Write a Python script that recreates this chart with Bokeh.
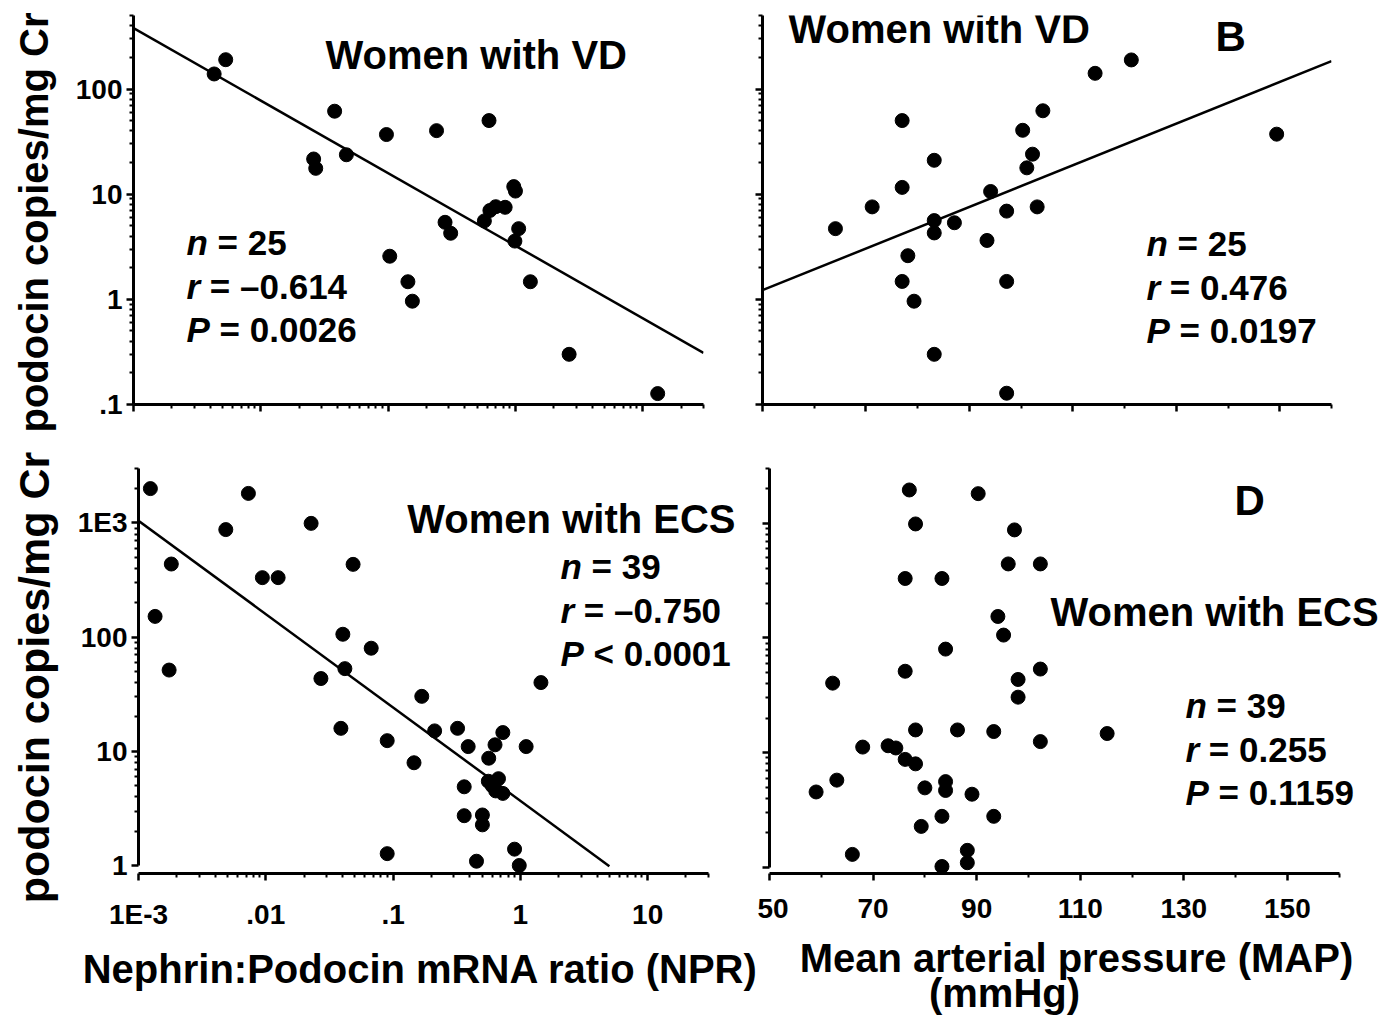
from math import pi, log10
from bokeh.plotting import figure
from bokeh.models import Range1d, FixedTicker, Label, CustomJSTickFormatter
from bokeh.layouts import row, column
from bokeh.embed import file_html
from bokeh.resources import INLINE

FONT = "Liberation Sans"

# ---------------- data ----------------
# Panel A: women with VD, NPR vs podocin copies/mg Cr
npr_vd = [0.0043, 0.0053, 0.038, 0.026, 0.027, 0.047, 0.097, 0.24, 0.62, 0.28,
          0.31, 0.103, 0.143, 0.155, 0.57, 0.63, 0.70, 0.83, 0.97, 1.0,
          1.06, 0.99, 1.31, 2.64, 13.1]
pod_vd_npr = [139, 190, 61.5, 21.6, 17.6, 23.7, 36.9, 40.2, 50.1, 5.4,
              4.25, 2.57, 1.47, 0.96, 5.57, 7.0, 7.6, 7.5, 11.8, 10.7,
              4.7, 3.58, 1.47, 0.30, 0.127]
fit_vd_npr = {"intercept": 0.51, "slope": -0.690, "x_from": 0.001, "x_to": 30}
stats_vd_npr = [("n", "= 25"), ("r", "= \u20130.614"), ("P", "= 0.0026")]

# Panel B: women with VD, MAP vs podocin copies/mg Cr
map_vd = [64.1, 71.2, 77.0, 77.0, 78.1, 77.0, 79.3, 83.2, 83.2, 83.2,
          87.1, 83.2, 93.4, 94.1, 97.2, 97.2, 97.2, 100.3, 101.1, 102.2,
          103.1, 104.2, 114.3, 121.3, 149.4]
pod_vd_map = [4.70, 7.57, 50.1, 11.6, 2.6, 1.48, 0.96, 21.0, 5.61, 4.28,
              5.35, 0.30, 3.63, 10.6, 6.9, 1.48, 0.128, 40.5, 17.8, 24.0,
              7.57, 62.1, 141, 189, 37.2]
fit_vd_map = {"intercept": -0.903, "slope": 0.0198, "x_from": 50, "x_to": 160}
stats_vd_map = [("n", "= 25"), ("r", "= 0.476"), ("P", "= 0.0197")]

# Panel C: women with ECS, NPR vs podocin copies/mg Cr
npr_ecs = [0.00124, 0.0073, 0.00485, 0.0227, 0.00181, 0.0094, 0.0125, 0.0485, 0.00135, 0.00174,
           0.0403, 0.0673, 0.0418, 0.0271, 1.45, 0.168, 0.0389, 0.0899, 0.212, 0.321,
           0.146, 0.389, 0.632, 0.728, 1.11, 0.564, 0.56, 0.673, 0.64, 0.728,
           0.362, 0.362, 0.503, 0.503, 0.0899, 0.452, 0.90, 0.98, 0.60]
pod_ecs_npr = [2000, 1815, 875, 992, 437, 332, 332, 434, 152, 51.5,
               106, 80, 53, 43.4, 40, 30.3, 15.9, 12.4, 15.1, 15.9,
               7.94, 11.0, 11.4, 14.6, 11.0, 8.7, 5.47, 5.76, 4.5, 4.28,
               4.89, 2.73, 2.77, 2.27, 1.27, 1.09, 1.39, 1.0, 5.0]
fit_ecs_npr = {"intercept": 0.566, "slope": -0.818, "x_from": 0.001, "x_to": 5.0}
stats_ecs_npr = [("n", "= 39"), ("r", "= \u20130.750"), ("P", "< 0.0001")]

# Panel D: women with ECS, MAP vs podocin copies/mg Cr
map_ecs = [77.0, 90.3, 78.2, 97.3, 96.1, 102.3, 76.2, 83.3, 94.1, 95.2,
           84.0, 76.2, 102.3, 62.2, 98.0, 98.0, 78.2, 86.3, 93.3, 115.2,
           102.3, 68.0, 72.9, 74.4, 76.2, 78.2, 63.0, 59.0, 80.0, 84.0,
           84.0, 89.1, 83.3, 93.3, 79.3, 66.0, 88.2, 88.2, 83.3]
pod_ecs_map = [1950, 1811, 986, 875, 442, 442, 330, 330, 154, 106,
               80, 51.3, 53.6, 40.4, 43.5, 30.5, 15.8, 15.8, 15.3, 14.7,
               12.5, 11.2, 11.5, 11.0, 8.75, 8.0, 5.77, 4.55, 4.94, 5.6,
               4.69, 4.35, 2.79, 2.79, 2.28, 1.30, 1.41, 1.10, 1.02]
stats_ecs_map = [("n", "= 39"), ("r", "= 0.255"), ("P", "= 0.1159")]

# axis tick definitions
npr_ticks = [0.001, 0.01, 0.1, 1, 10]
npr_tick_labels = ["1E-3", ".01", ".1", "1", "10"]
map_ticks = [50, 70, 90, 110, 130, 150]
map_tick_labels = ["50", "70", "90", "110", "130", "150"]
map_minor = [60, 80, 100, 120, 140, 160]
vd_y_ticks = [0.1, 1, 10, 100]
vd_y_labels = [".1", "1", "10", "100"]
ecs_y_ticks = [1, 10, 100, 1000]
ecs_y_labels = ["1", "10", "100", "1E3"]

y_label = "podocin copies/mg Cr"
npr_label = "Nephrin:Podocin mRNA ratio (NPR)"
map_label_1 = "Mean arterial pressure (MAP)"
map_label_2 = "(mmHg)"
vd_title = "Women with VD"
ecs_title = "Women with ECS"


def log_minors(lo, hi):
    out = []
    e = -6
    while 10 ** e <= hi:
        for m in range(2, 10):
            v = round(m * 10 ** e, 10)
            if lo <= v <= hi:
                out.append(v)
        e += 1
    return out


def label_formatter(ticks, labels):
    return CustomJSTickFormatter(
        args=dict(tvals=ticks, tlabs=labels),
        code="""
        for (let i = 0; i < tvals.length; i++) {
            if (Math.abs(tick - tvals[i]) <= 1e-9 * Math.abs(tvals[i])) { return tlabs[i]; }
        }
        return '';
        """)


def style_axis(ax, ticks, minors, labels=None, standoff=4):
    ax.ticker = FixedTicker(ticks=ticks, minor_ticks=minors)
    ax.axis_line_width = 3
    ax.axis_line_color = "black"
    ax.major_tick_line_width = 2.5
    ax.minor_tick_line_width = 2
    ax.major_tick_line_color = "black"
    ax.minor_tick_line_color = "black"
    ax.major_tick_in = 0
    ax.major_tick_out = 7
    ax.minor_tick_in = 0
    ax.minor_tick_out = 4
    ax.major_label_text_font = FONT
    ax.major_label_text_font_style = "bold"
    ax.major_label_text_color = "black"
    if labels is None:
        # axis without tick labels
        ax.major_label_standoff = 0
        ax.major_label_text_font_size = "2px"
        ax.formatter = label_formatter(ticks, ["" for _ in ticks])
    else:
        ax.major_label_standoff = standoff
        ax.major_label_text_font_size = "28px"
        ax.formatter = label_formatter(ticks, labels)


def txt(p, sx, sy, text, size, style="bold", align="left", angle=0.0):
    p.add_layout(Label(x=sx, y=sy, x_units="screen", y_units="screen", text=text,
                       text_font=FONT, text_font_style=style, text_font_size=f"{size}px",
                       text_align=align, text_baseline="middle", angle=angle,
                       text_color="black"))


SYM_W = {"n": 0.889, "r": 0.667, "P": 0.945}


def stats(p, sx, sy0, lines, size=35, gap=43.5):
    for i, (sym, rest) in enumerate(lines):
        y = sy0 - i * gap
        txt(p, sx, y, sym, size, "bold italic")
        txt(p, sx + SYM_W[sym] * size, y, rest, size)


def base(width, height, xtype, xr, yr, bl, br, bt, bb):
    p = figure(width=width, height=height, x_axis_type=xtype, y_axis_type="log",
               x_range=Range1d(*xr), y_range=Range1d(*yr),
               min_border_left=bl, min_border_right=br, min_border_top=bt, min_border_bottom=bb,
               output_backend="svg", toolbar_location=None)
    p.outline_line_color = None
    p.grid.visible = False
    p.background_fill_color = "white"
    p.border_fill_color = "white"
    return p


def text_canvas(width, height):
    p = figure(width=width, height=height, x_range=Range1d(0, 1), y_range=Range1d(0, 1),
               x_axis_location=None, y_axis_location=None, min_border=0,
               output_backend="svg", toolbar_location=None)
    p.outline_line_color = None
    p.grid.visible = False
    p.background_fill_color = "white"
    p.border_fill_color = "white"
    return p


def log_fit_line(fit):
    xs = [fit["x_from"], fit["x_to"]]
    ys = [10 ** (fit["intercept"] + fit["slope"] * log10(x)) for x in xs]
    return xs, ys


def lin_fit_line(fit):
    xs = [fit["x_from"], fit["x_to"]]
    ys = [10 ** (fit["intercept"] + fit["slope"] * x) for x in xs]
    return xs, ys


# ---------------- left strip with the y-axis titles ----------------
pL = text_canvas(62, 1016)
txt(pL, 33, 794, y_label, 40, align="center", angle=pi / 2)
txt(pL, 33, 339, y_label, 43, align="center", angle=pi / 2)

# ---------------- Panel A ----------------
pA = base(661, 440, "log", (0.001, 30), (0.1, 500), 71, 20, 15, 36)
style_axis(pA.xaxis[0], npr_ticks, log_minors(0.001, 30))
style_axis(pA.yaxis[0], vd_y_ticks, log_minors(0.1, 500), vd_y_labels)
xs, ys = log_fit_line(fit_vd_npr)
pA.line(xs, ys, line_color="black", line_width=2.5)
pA.scatter(npr_vd, pod_vd_npr, size=14, color="black")
txt(pA, 192, 350, vd_title, 40)
stats(pA, 53, 162, stats_vd_npr)

# ---------------- Panel B ----------------
pB = base(648, 440, "linear", (50, 160), (0.1, 500), 39, 40, 15, 36)
style_axis(pB.xaxis[0], map_ticks, map_minor)
style_axis(pB.yaxis[0], vd_y_ticks, log_minors(0.1, 500))
xs, ys = lin_fit_line(fit_vd_map)
pB.line(xs, ys, line_color="black", line_width=2.5)
pB.scatter(map_vd, pod_vd_map, size=14, color="black")
txt(pB, 26, 376, vd_title, 40)
txt(pB, 453, 368, "B", 42)
stats(pB, 384, 161, stats_vd_map)

# ---------------- Panel C ----------------
pC = base(695, 493, "log", (0.001, 72.9), (0.851, 3000), 76, 0, 28, 60)
style_axis(pC.xaxis[0], npr_ticks, log_minors(0.001, 30), npr_tick_labels, standoff=18)
pC.xaxis[0].bounds = (0.001, 30)
style_axis(pC.yaxis[0], ecs_y_ticks, log_minors(1, 3000), ecs_y_labels)
pC.yaxis[0].bounds = (1, 3000)
xs, ys = log_fit_line(fit_ecs_npr)
pC.line(xs, ys, line_color="black", line_width=2.5)
pC.scatter(npr_ecs, pod_ecs_npr, size=14, color="black")
txt(pC, 597, 355, ecs_title, 40, align="right")
stats(pC, 422, 307, stats_ecs_npr)

# ---------------- Panel D ----------------
pD = base(637, 493, "linear", (50, 170.3), (0.886, 3000), 12, 2, 28, 60)
style_axis(pD.xaxis[0], map_ticks, map_minor, map_tick_labels, standoff=18)
pD.xaxis[0].bounds = (50, 160)
style_axis(pD.yaxis[0], ecs_y_ticks, log_minors(1, 3000))
pD.yaxis[0].bounds = (1, 3000)
pD.scatter(map_ecs, pod_ecs_map, size=14, color="black")
txt(pD, 465, 373, "D", 42)
txt(pD, 281, 262, ecs_title, 40)
stats(pD, 416, 168, stats_ecs_map)

# ---------------- bottom strip with the x-axis titles ----------------
pT = text_canvas(1332, 83)
txt(pT, 358, 48, npr_label, 40, align="center")
txt(pT, 1014, 59, map_label_1, 40, align="center")
txt(pT, 942, 24, map_label_2, 40, align="center")

layout = row(pL, column(row(pA, pB), row(pC, pD), pT))
open("out.html", "w").write(file_html(layout, INLINE))
